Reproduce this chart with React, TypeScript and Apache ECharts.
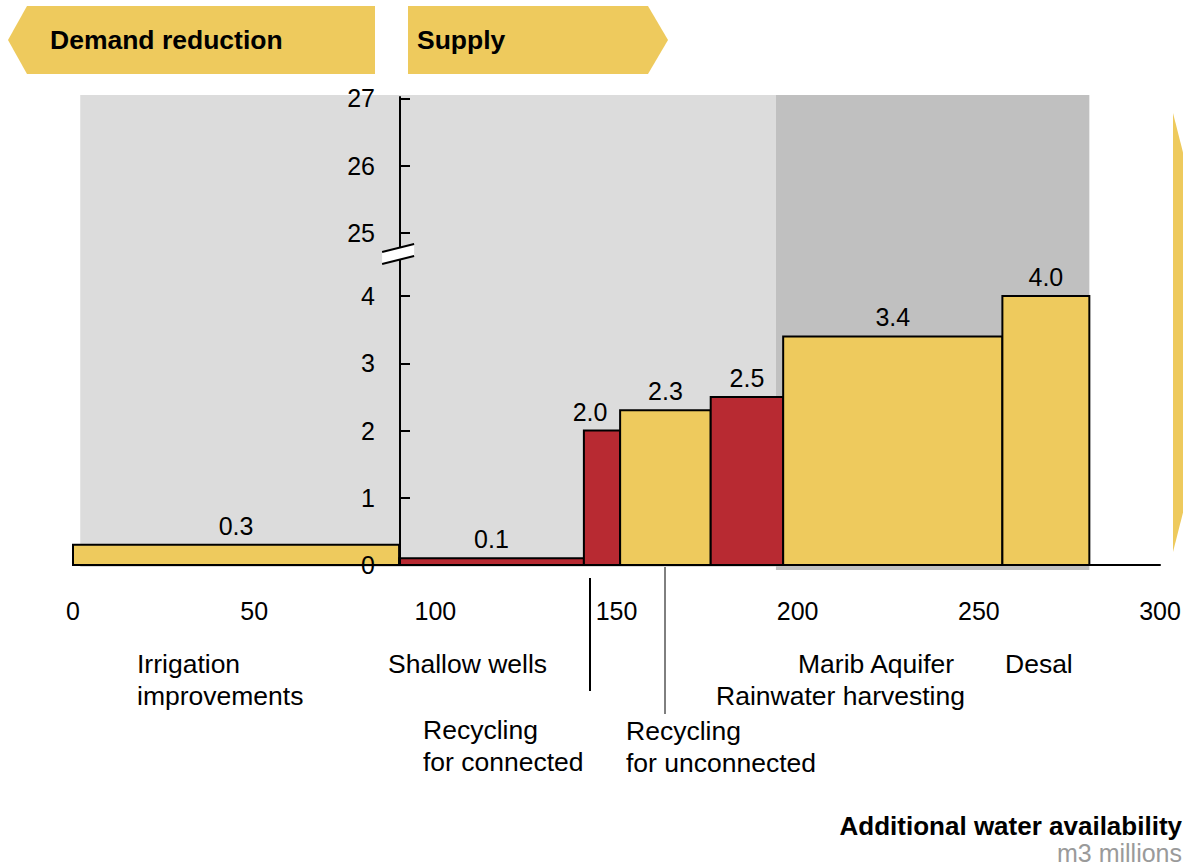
import React, { useEffect, useRef } from "react";
import * as echarts from "echarts";

// Water options, ordered by cost along the availability axis
const OPTION_NAMES = [
  "Irrigation\nimprovements",
  "Shallow wells",
  "Recycling\nfor connected",
  "Recycling\nfor unconnected",
  "Rainwater harvesting",
  "Marib Aquifer",
  "Desal",
];
// Additional water availability (m3 millions) per option
const OPTION_VOLUMES = [90, 51, 10, 25, 20, 60.5, 24];
// Unit cost per option
const OPTION_COSTS = [0.3, 0.1, 2.0, 2.3, 2.5, 3.4, 4.0];
// Colour group per option
const OPTION_GROUPS = ["yellow", "red", "red", "yellow", "red", "yellow", "yellow"];

// Shaded backdrop ranges along the x axis
const BAND_RANGES = [
  [2, 194],
  [194, 280.5],
];

const X_TICKS = [0, 50, 100, 150, 200, 250, 300];
const Y_TICKS = [0, 1, 2, 3, 4, 25, 26, 27];

// Broken y axis: values above BREAK_LOW are shifted down to sit just above it
const BREAK_LOW = 4;
const BREAK_HIGH = 25;
const BREAK_GAP = 0.94;
const toAxis = (v: number) => (v <= BREAK_LOW ? v : BREAK_LOW + BREAK_GAP + (v - BREAK_HIGH));

const COLORS: Record<string, string> = { yellow: "#EECA5D", red: "#B82A32" };
const BAND_COLORS = ["#DCDCDC", "#C0C0C0"];
const FONT = "'Liberation Sans', Arial, Helvetica, sans-serif";
const TEXT_SIZE = 26.5;

// Placement of the option names under the axis (pixels)
const NAME_LAYOUT = [
  { x: 137, y: 664 },
  { x: 388, y: 664 },
  { x: 423, y: 730 },
  { x: 626, y: 731 },
  { x: 716, y: 696 },
  { x: 798, y: 664 },
  { x: 1005, y: 664 },
];
const VALUE_NUDGE = [0, 0, -12, 0, 0, 0, 0];

export default function App() {
  const ref = useRef<HTMLDivElement>(null);

  useEffect(() => {
    document.body.style.margin = "0";
    document.body.style.overflow = "hidden";
    if (!ref.current) return;
    const chart = echarts.init(ref.current, null, { renderer: "svg" });

    let cursor = 0;
    const barData = OPTION_COSTS.map((c, i) => {
      const start = cursor;
      cursor += OPTION_VOLUMES[i];
      return [start, cursor, c, i];
    });

    const axisMax = 6.96;
    const yTickPos = Y_TICKS.map(toAxis);

    const option: any = {
      animation: false,
      grid: { left: 73, right: 23, top: 97, bottom: 302, containLabel: false, outerBoundsMode: "none" },
      xAxis: {
        type: "value",
        min: 0,
        max: 300,
        interval: 50,
        z: 5,
        splitLine: { show: false },
        axisTick: { show: false },
        axisLine: { show: true, lineStyle: { color: "#000", width: 2 } },
        axisLabel: {
          show: true,
          margin: 33,
          color: "#000",
          fontSize: 25,
          fontFamily: FONT,
          showMinLabel: true,
          showMaxLabel: true,
          customValues: X_TICKS,
        },
      },
      yAxis: {
        type: "value",
        min: 0,
        max: axisMax,
        offset: -327,
        z: 5,
        splitLine: { show: false },
        axisLine: { show: true, lineStyle: { color: "#000", width: 2 } },
        axisTick: {
          show: true,
          inside: true,
          length: 10,
          lineStyle: { color: "#000", width: 2 },
          customValues: yTickPos,
        },
        axisLabel: {
          margin: 25,
          color: "#000",
          fontSize: 25,
          fontFamily: FONT,
          customValues: yTickPos,
          formatter: (v: number) => {
            const idx = yTickPos.findIndex((t) => Math.abs(t - v) < 1e-6);
            return idx >= 0 ? String(Y_TICKS[idx]) : "";
          },
        },
      },
      series: [
        {
          type: "custom",
          name: "bands",
          z: 1,
          silent: true,
          data: BAND_RANGES.map((r, i) => [r[0], r[1], i]),
          renderItem: (params: any, api: any) => {
            const p0 = api.coord([api.value(0), 6.99]);
            const p1 = api.coord([api.value(1), 0]);
            const i = api.value(2);
            return {
              type: "rect",
              shape: { x: p0[0], y: p0[1], width: p1[0] - p0[0], height: p1[1] - p0[1] + (i === 1 ? 5 : 2) },
              style: { fill: BAND_COLORS[i] },
            };
          },
        },
        {
          type: "custom",
          name: "options",
          z: 3,
          data: barData,
          renderItem: (params: any, api: any) => {
            const i = api.value(3);
            const tl = api.coord([api.value(0), api.value(2)]);
            const br = api.coord([api.value(1), 0]);
            return {
              type: "group",
              children: [
                {
                  type: "rect",
                  shape: { x: tl[0], y: tl[1], width: br[0] - tl[0], height: br[1] - tl[1] },
                  style: { fill: COLORS[OPTION_GROUPS[i]], stroke: "#000", lineWidth: 2 },
                },
                {
                  type: "text",
                  x: (tl[0] + br[0]) / 2 + VALUE_NUDGE[i],
                  y: tl[1] - 19,
                  style: {
                    text: OPTION_COSTS[i].toFixed(1),
                    fontSize: 25,
                    fontFamily: FONT,
                    fill: "#000",
                    align: "center",
                    verticalAlign: "middle",
                  },
                },
              ],
            };
          },
        },
        {
          type: "custom",
          name: "axisBreak",
          z: 10,
          silent: true,
          data: [[OPTION_VOLUMES[0], BREAK_LOW + 0.7]],
          renderItem: (params: any, api: any) => {
            const c = api.coord([api.value(0), api.value(1)]);
            const x = c[0];
            const y = c[1];
            return {
              type: "group",
              children: [
                {
                  type: "polygon",
                  shape: { points: [[x - 17, y + 3], [x + 15, y - 5], [x + 15, y + 7], [x - 17, y + 15]] },
                  style: { fill: "#fff" },
                },
                { type: "line", shape: { x1: x - 17, y1: y + 3, x2: x + 15, y2: y - 5 }, style: { stroke: "#000", lineWidth: 2 } },
                { type: "line", shape: { x1: x - 17, y1: y + 15, x2: x + 15, y2: y + 7 }, style: { stroke: "#000", lineWidth: 2 } },
              ],
            };
          },
        },
      ],
      graphic: [
        // Banners
        {
          type: "polygon",
          shape: { points: [[375, 6], [27, 6], [8, 40], [27, 74], [375, 74]] },
          style: { fill: "#EECA5D" },
        },
        {
          type: "polygon",
          shape: { points: [[408, 6], [648, 6], [668, 40], [648, 74], [408, 74]] },
          style: { fill: "#EECA5D" },
        },
        {
          type: "polygon",
          shape: { points: [[1173, 113], [1195, 200], [1195, 465], [1173, 552]] },
          style: { fill: "#EECA5D" },
        },
        {
          type: "text",
          x: 50,
          y: 40,
          style: { text: "Demand reduction", fontSize: TEXT_SIZE, fontWeight: "bold", fontFamily: FONT, fill: "#000", verticalAlign: "middle" },
        },
        {
          type: "text",
          x: 417,
          y: 40,
          style: { text: "Supply", fontSize: TEXT_SIZE, fontWeight: "bold", fontFamily: FONT, fill: "#000", verticalAlign: "middle" },
        },
        // Option names
        ...OPTION_NAMES.map((n, i) => ({
          type: "text",
          x: NAME_LAYOUT[i].x,
          y: NAME_LAYOUT[i].y - 16,
          style: { text: n, fontSize: TEXT_SIZE, lineHeight: 32, fontFamily: FONT, fill: "#000", verticalAlign: "top" },
        })),
        // Leader lines
        { type: "line", shape: { x1: 590, y1: 578, x2: 590, y2: 691 }, style: { stroke: "#000", lineWidth: 2 } },
        { type: "line", shape: { x1: 665, y1: 567, x2: 665, y2: 714 }, style: { stroke: "#000", lineWidth: 1 } },
        // Axis title
        {
          type: "text",
          x: 1182,
          y: 826,
          style: { text: "Additional water availability", fontSize: 26, fontWeight: "bold", fontFamily: FONT, fill: "#000", align: "right", verticalAlign: "middle" },
        },
        {
          type: "text",
          x: 1182,
          y: 853,
          style: { text: "m3 millions", fontSize: 25, fontFamily: FONT, fill: "#9A9A9A", align: "right", verticalAlign: "middle" },
        },
      ],
    };

    chart.setOption(option);
    return () => chart.dispose();
  }, []);

  return <div ref={ref} style={{ width: 1183, height: 867 }} />;
}
